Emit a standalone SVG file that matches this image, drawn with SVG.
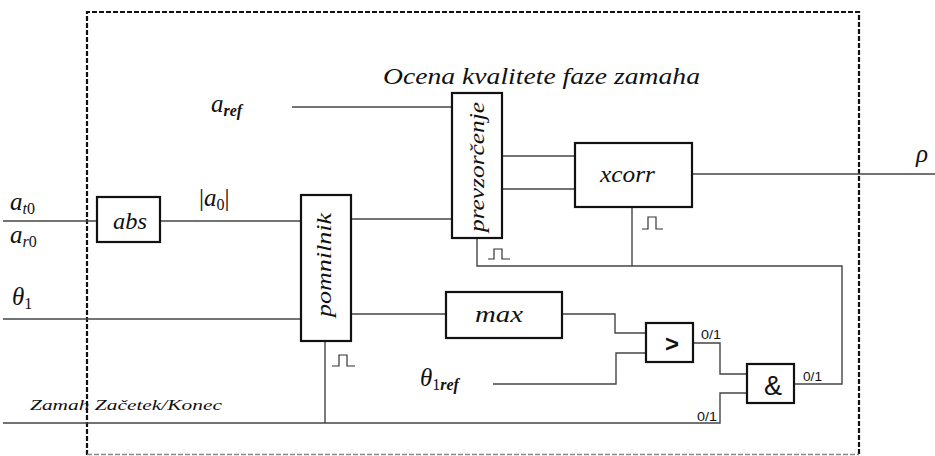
<svg xmlns="http://www.w3.org/2000/svg" width="935" height="456" viewBox="0 0 935 456">
<style>
.box{fill:#fff;stroke:#111;stroke-width:2.2}
.w{fill:none;stroke:#444;stroke-width:1.4}
.m{font-family:"Liberation Serif","DejaVu Serif",serif;font-style:italic;fill:#111}
.s{font-family:"Liberation Sans",Arial,sans-serif;fill:#111}
.up{font-style:normal}
.pulse{fill:none;stroke:#333;stroke-width:1.2}
</style>
<rect x="0" y="0" width="935" height="456" fill="#fff"/>
<g id="frame">
<path d="M87,455 V12 H859 V455" fill="none" stroke="#111" stroke-width="2.2" stroke-dasharray="5,2"/>
<path d="M87,454.5 H859" fill="none" stroke="#888" stroke-width="1.4" stroke-dasharray="5,2"/>
<text class="m" x="383" y="84" font-size="24" textLength="317" lengthAdjust="spacingAndGlyphs">Ocena kvalitete faze zamaha</text>
</g>
<g id="connectors">
<path class="w" d="M3,221 H97"/>
<path class="w" d="M160,221 H301"/>
<path class="w" d="M3,319 H301"/>
<path class="w" d="M292,107 H452"/>
<path class="w" d="M351,219 H452"/>
<path class="w" d="M502,156 H575"/>
<path class="w" d="M502,189 H575"/>
<path class="w" d="M692,174 H935"/>
<path class="w" d="M477,238 V266 H842 V384 H794"/>
<path class="w" d="M632,207 V266"/>
<path class="w" d="M351,314 H446"/>
<path class="w" d="M562,314 H615 V333 H646"/>
<path class="w" d="M493,384 H616 V353 H646"/>
<path class="w" d="M693,343 H720 V374 H747"/>
<path class="w" d="M747,393 H720 V423 H3"/>
<path class="w" d="M325,341 V423"/>
<path class="pulse" d="M332,366 H339 V355 H347 V366 H355"/>
<path class="pulse" d="M488,259 H494 V249 H502 V259 H510"/>
<path class="pulse" d="M642,229 H648 V217 H656 V229 H663"/>
<text class="s" x="701" y="339" font-size="13" textLength="20" lengthAdjust="spacingAndGlyphs">0/1</text>
<text class="s" x="803" y="381" font-size="13" textLength="19" lengthAdjust="spacingAndGlyphs">0/1</text>
<text class="s" x="697" y="421" font-size="13" textLength="20" lengthAdjust="spacingAndGlyphs">0/1</text>
</g>
<g id="abs">
<rect class="box" x="97" y="197" width="63" height="45"/>
<text class="m" x="113" y="229" font-size="23" textLength="34" lengthAdjust="spacingAndGlyphs">abs</text>
</g>
<g id="pomnilnik">
<rect class="box" x="301" y="195" width="50" height="146"/>
<text class="m" transform="translate(331,317) rotate(-90)" font-size="22" textLength="104" lengthAdjust="spacingAndGlyphs">pomnilnik</text>
</g>
<g id="prevzorcenje">
<rect class="box" x="452" y="93" width="50" height="145"/>
<text class="m" transform="translate(484,232) rotate(-90)" font-size="22" textLength="130" lengthAdjust="spacingAndGlyphs">prevzorčenje</text>
</g>
<g id="xcorr">
<rect class="box" x="575" y="143" width="117" height="64"/>
<text class="m" x="600" y="182" font-size="23" textLength="55" lengthAdjust="spacingAndGlyphs">xcorr</text>
</g>
<g id="max">
<rect class="box" x="446" y="292" width="116" height="46"/>
<text class="m" x="475" y="322" font-size="23" textLength="48" lengthAdjust="spacingAndGlyphs">max</text>
</g>
<g id="greater">
<rect class="box" x="646" y="323" width="47" height="39"/>
<text class="s" x="672" y="352" font-size="24" font-weight="bold" text-anchor="middle">&gt;</text>
</g>
<g id="and">
<rect class="box" x="747" y="364" width="47" height="39"/>
<text class="s" x="773" y="395" font-size="27" text-anchor="middle">&amp;</text>
</g>
<g id="labels">
<text class="m" x="10" y="210" font-size="25">a<tspan font-size="16" dy="4">t</tspan><tspan class="up" font-size="16">0</tspan></text>
<text class="m" x="10" y="243" font-size="25">a<tspan font-size="16" dy="4">r</tspan><tspan class="up" font-size="16">0</tspan></text>
<text class="m" x="199" y="206" font-size="25"><tspan class="up">|</tspan>a<tspan class="up" font-size="16" dy="4">0</tspan><tspan class="up" dy="-4">|</tspan></text>
<text class="m" x="12" y="305" font-size="25">θ<tspan class="up" font-size="16" dy="4">1</tspan></text>
<text class="m" x="420" y="386" font-size="25">θ<tspan class="up" font-size="16" dy="4">1</tspan><tspan font-size="16" font-weight="bold">ref</tspan></text>
<text class="m" x="211" y="112" font-size="25">a<tspan font-size="16" dy="4" font-weight="bold">ref</tspan></text>
<text class="m" x="916" y="162" font-size="25">ρ</text>
<text class="m" x="30" y="410" font-size="15" textLength="192" lengthAdjust="spacingAndGlyphs">Zamah Začetek/Konec</text>
</g>
</svg>
